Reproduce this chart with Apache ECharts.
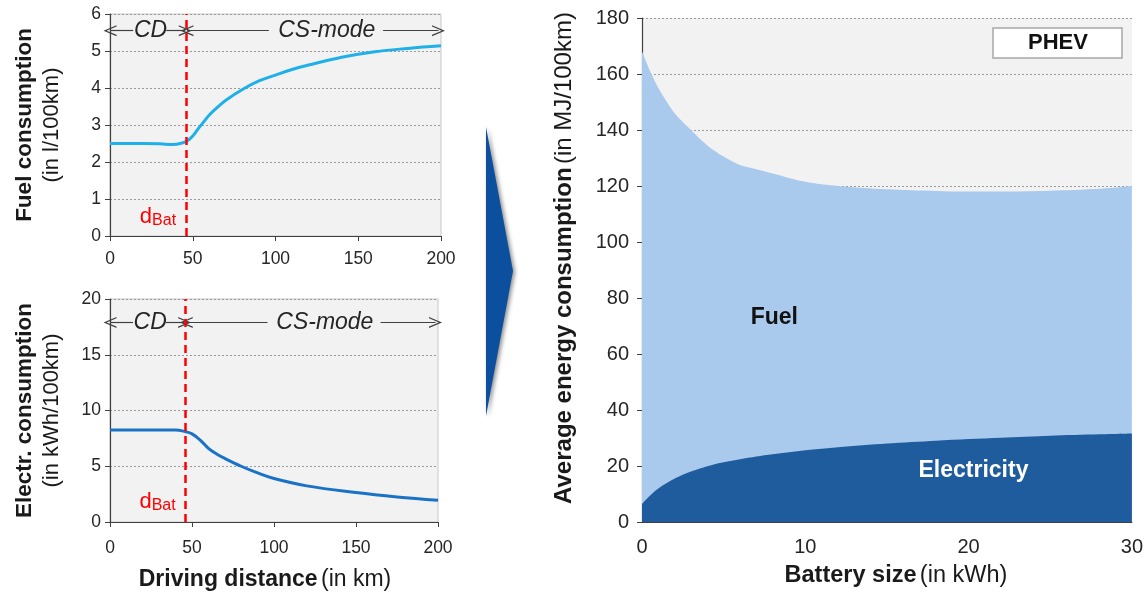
<!DOCTYPE html>
<html><head><meta charset="utf-8">
<script src="https://cdn.jsdelivr.net/npm/echarts@6/dist/echarts.min.js"></script>
<style>html,body{margin:0;padding:0;background:#fff}#c{width:1146px;height:596px}</style>
</head><body><div id="c"></div>
<script>
// ---- data ----
const distFuel = [0,10,20,30,38,44,47,50,53,56,60,65,70,80,90,100,110,120,140,160,180,200];
const fuelL   = [2.5,2.5,2.5,2.49,2.47,2.52,2.58,2.7,2.88,3.05,3.27,3.48,3.67,3.96,4.19,4.35,4.5,4.62,4.83,4.98,5.07,5.14];
const distElec = [0,10,20,30,40,46,50,55,60,65,70,80,90,100,120,150,175,200];
const elecKwh  = [8.25,8.25,8.25,8.25,8.25,8.1,7.9,7.35,6.6,6.1,5.7,5.0,4.4,3.9,3.24,2.64,2.25,1.95];
const dBat = 46;
const batt    = [0,0.5,1,2,3,4,5,6,7,8,10,12,15,18,20,22,25,28,30];
const elecMJ  = [6.5,9.5,12,15.5,18,19.9,21.3,22.4,23.4,24.2,25.6,26.7,28,29,29.6,30.1,30.8,31.3,31.6];
const totalMJ = [168,161,155,146,140,134.5,130.5,127.5,126,124.5,121.5,120,118.8,118.2,118,118,118.3,119,120];

const FONT = '"Liberation Sans", Arial, sans-serif';
const pairs = (xs, ys) => xs.map((x,i)=>[x, ys[i]]);
const chevron = 'path://M0,10 L5,0 L10,10 L8.8,10 L5,2.4 L1.2,10 Z';

function modeArrows(y) {
  const seg = (x1, x2, s1, s2) => [
    {coord:[x1,y], symbol:s1, symbolSize:[11,13]},
    {coord:[x2,y], symbol:s2, symbolSize:[11,13]}
  ];
  return {
    silent: true, animation: false,
    lineStyle: {color: '#404040', width: 1.2, type: 'solid'},
    label: {show: false},
    data: [
      seg(0, 14, chevron, 'none'),
      seg(34, 45.5, 'none', chevron),
      seg(46.5, 96, chevron, 'none'),
      seg(165, 198.5, 'none', chevron)
    ]
  };
}
function modeText(y) {
  return {
    symbol: 'circle', symbolSize: 1, itemStyle: {color: 'rgba(0,0,0,0)'},
    silent: true,
    label: {show: true, position: 'inside', fontFamily: FONT, fontStyle: 'italic',
            fontSize: 23, color: '#262626'},
    data: [
      {coord: [24.5, y], value: 'CD', label: {formatter: 'CD'}},
      {coord: [131, y], value: 'CS-mode', label: {formatter: 'CS-mode'}}
    ]
  };
}
const dbatRich = {
  a: {fontSize: 22, color: '#ff0000', fontFamily: FONT, padding: [0,0,7,0]},
  b: {fontSize: 16, color: '#ff0000', fontFamily: FONT}
};
function dBatSeries(xi, yLabel) {
  return {type: 'line', xAxisIndex: xi, yAxisIndex: xi, data: [], z: 4,
    markLine: {silent: true, animation: false, symbol: 'none',
      lineStyle: {color: '#ff0000', width: 2.5, type: [8,5]},
      label: {show: false}, data: [{xAxis: dBat}]},
    markPoint: {symbol: 'circle', symbolSize: 1, itemStyle: {color: 'rgba(0,0,0,0)'},
      label: {show: true, position: 'inside', rich: dbatRich},
      data: [{coord: [29, yLabel], value: 1, label: {formatter: '{a|d}{b|Bat}'}}]}};
}

const tickLabel = {color: '#262626', fontFamily: FONT, fontSize: 17.5};
const axisLineBlack = {show: true, lineStyle: {color: '#404040', width: 1.2}};
const dotted = {show: true, lineStyle: {color: '#9a9a9a', type: [2,2], width: 1}};
const nameRich = (fs) => ({
  b: {fontFamily: FONT, fontWeight: 'bold', fontSize: fs, color: '#1a1a1a'},
  n: {fontFamily: FONT, fontSize: fs, color: '#1a1a1a'}
});
const twoLineRich = {
  b: {fontFamily: FONT, fontWeight: 'bold', fontSize: 22.5, color: '#1a1a1a', lineHeight: 27, align: 'center'},
  n: {fontFamily: FONT, fontSize: 22, color: '#1a1a1a', lineHeight: 27, align: 'center'}
};

const option = {
  animation: false,
  backgroundColor: '#ffffff',
  grid: [
    {left: 110, top: 14, width: 331, height: 222, show: true, backgroundColor: '#f2f2f2', borderColor: '#c8c8c8', borderWidth: 1},
    {left: 110, top: 299, width: 328, height: 223, show: true, backgroundColor: '#f2f2f2', borderColor: '#c8c8c8', borderWidth: 1},
    {left: 642, top: 18, width: 492, height: 504, show: true, backgroundColor: '#f2f2f2', borderWidth: 0}
  ],
  xAxis: [
    {gridIndex: 0, type: 'value', min: 0, max: 200, interval: 50, axisLine: axisLineBlack,
     axisTick: {show: true, length: 5, lineStyle: {color: '#404040'}}, splitLine: {show: false},
     axisLabel: Object.assign({margin: 14}, tickLabel)},
    {gridIndex: 1, type: 'value', min: 0, max: 200, interval: 50, axisLine: axisLineBlack,
     axisTick: {show: true, length: 5, lineStyle: {color: '#404040'}}, splitLine: {show: false},
     axisLabel: Object.assign({margin: 17}, tickLabel),
     name: '{b|Driving distance} {n|(in km)}', nameLocation: 'middle', nameGap: 46,
     nameTextStyle: {padding: [0, 18, 0, 0], rich: nameRich(23)}},
    {gridIndex: 2, type: 'value', min: 0, max: 30, interval: 10, axisLine: axisLineBlack,
     axisTick: {show: false}, splitLine: {show: false},
     axisLabel: Object.assign({margin: 15}, tickLabel, {fontSize: 20}),
     name: '{b|Battery size} {n|(in kWh)}', nameLocation: 'middle', nameGap: 42,
     nameTextStyle: {padding: [0, 0, 0, 18], rich: nameRich(23.5)}}
  ],
  yAxis: [
    {gridIndex: 0, type: 'value', min: 0, max: 6, interval: 1, axisLine: axisLineBlack,
     axisTick: {show: true, length: 5, lineStyle: {color: '#404040'}}, splitLine: dotted,
     axisLabel: Object.assign({margin: 9}, tickLabel),
     name: '{b|Fuel consumption}\n{n|(in l/100km)}', nameLocation: 'middle', nameRotate: 90, nameGap: 45,
     nameTextStyle: {align: 'center', rich: twoLineRich}},
    {gridIndex: 1, type: 'value', min: 0, max: 20, interval: 5, axisLine: axisLineBlack,
     axisTick: {show: true, length: 5, lineStyle: {color: '#404040'}}, splitLine: dotted,
     axisLabel: Object.assign({margin: 9}, tickLabel),
     name: '{b|Electr. consumption}\n{n|(in kWh/100km)}', nameLocation: 'middle', nameRotate: 90, nameGap: 45,
     nameTextStyle: {align: 'center', rich: twoLineRich}},
    {gridIndex: 2, type: 'value', min: 0, max: 180, interval: 20, axisLine: axisLineBlack,
     axisTick: {show: true, length: 5, lineStyle: {color: '#404040'}}, splitLine: dotted,
     axisLabel: Object.assign({margin: 13}, tickLabel, {fontSize: 20}),
     name: '{b|Average energy consumption} {n|(in MJ/100km)}', nameLocation: 'middle', nameRotate: 90, nameGap: 66,
     nameTextStyle: {padding: [0, 0, 0, 24], rich: nameRich(24)}}
  ],
  series: [
    {type: 'line', name: 'Fuel', xAxisIndex: 0, yAxisIndex: 0, data: pairs(distFuel, fuelL),
     smooth: 0.4, showSymbol: false, lineStyle: {color: '#1fb0ea', width: 3}, z: 3,
     markLine: modeArrows(5.55), markPoint: modeText(5.55)},
    dBatSeries(0, 0.42),
    {type: 'line', name: 'Electricity', xAxisIndex: 1, yAxisIndex: 1, data: pairs(distElec, elecKwh),
     smooth: 0.4, showSymbol: false, lineStyle: {color: '#1a72c6', width: 3}, z: 3,
     markLine: modeArrows(17.9), markPoint: modeText(17.9)},
    dBatSeries(1, 1.45),
    {type: 'line', name: 'TotalMJ', xAxisIndex: 2, yAxisIndex: 2, data: pairs(batt, totalMJ), z: 2,
     smooth: 0.3, showSymbol: false, lineStyle: {width: 0}, areaStyle: {color: '#a9caed', opacity: 1},
     markPoint: {symbol: 'circle', symbolSize: 1, itemStyle: {color: 'rgba(0,0,0,0)'},
       label: {show: true, position: 'inside', fontFamily: FONT, fontWeight: 'bold', fontSize: 23, color: '#111111'},
       data: [{coord: [8.1, 73], value: 1, label: {formatter: 'Fuel'}}]}},
    {type: 'line', name: 'ElecMJ', xAxisIndex: 2, yAxisIndex: 2, data: pairs(batt, elecMJ), z: 3,
     smooth: 0.3, showSymbol: false, lineStyle: {width: 0}, areaStyle: {color: '#1f5c9d', opacity: 1},
     markPoint: {symbol: 'circle', symbolSize: 1, itemStyle: {color: 'rgba(0,0,0,0)'},
       label: {show: true, position: 'inside', fontFamily: FONT, fontWeight: 'bold', fontSize: 23, color: '#ffffff'},
       data: [{coord: [20.3, 18.5], value: 1, label: {formatter: 'Electricity'}}]}}
  ],
  graphic: [
    {type: 'polygon', shape: {points: [[486,127],[513,271],[486,416]]},
     style: {fill: '#0b4f9e', shadowBlur: 4, shadowColor: 'rgba(0,0,0,0.45)', shadowOffsetX: 2, shadowOffsetY: 1}},
    {type: 'rect', shape: {x: 993, y: 28, width: 129, height: 30},
     style: {fill: '#ffffff', stroke: '#a6a6a6', lineWidth: 1.5}, z: 10},
    {type: 'text', x: 1058, y: 43, z: 11,
     style: {text: 'PHEV', fontFamily: FONT, fontWeight: 'bold', fontSize: 22, fill: '#111111', align: 'center', verticalAlign: 'middle'}}
  ]
};
const chart = echarts.init(document.getElementById('c'), null, {renderer: 'canvas'});
chart.setOption(option);
</script></body></html>
